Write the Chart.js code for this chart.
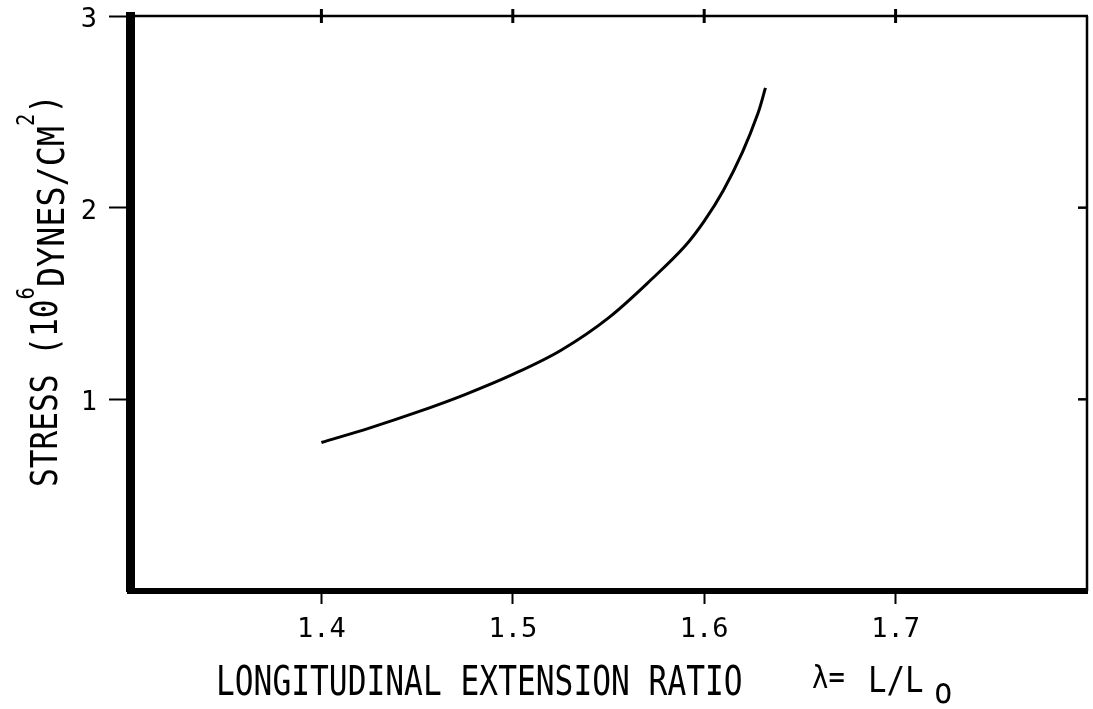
<!DOCTYPE html>
<html><head><meta charset="utf-8">
<script src="https://cdn.jsdelivr.net/npm/chart.js@4.4.1/dist/chart.umd.min.js"></script>
<style>html,body{margin:0;padding:0;background:#fff;}#wrap{width:1093px;height:709px;}</style>
</head><body><div id="wrap"><canvas id="c" width="1093" height="709"></canvas></div>
<script>
// ---- data ----
const extensionRatio = [1.400, 1.425, 1.450, 1.475, 1.500, 1.525, 1.550, 1.575, 1.590, 1.600, 1.610, 1.620, 1.628, 1.632];
const stressValues   = [0.775, 0.850, 0.933, 1.025, 1.130, 1.255, 1.425, 1.650, 1.800, 1.930, 2.090, 2.290, 2.490, 2.625];
const xTickValues = [1.4, 1.5, 1.6, 1.7];
const yTickValues = [1, 2, 3];
const xTitleMain = 'LONGITUDINAL EXTENSION RATIO';
const xTitleLambda = 'λ=';
const xTitleRatio = 'L/L';
const xTitleSub = 'o';
const yTitleParts = ['STRESS (10', '6', 'DYNES/CM', '2', ')'];

const FONT = '"DejaVu Sans Mono", "Liberation Mono", monospace';

function drawScaled(ctx, text, x, y, size, sx) {
  ctx.save();
  ctx.translate(x, y);
  ctx.scale(sx, 1);
  ctx.font = size + 'px ' + FONT;
  ctx.fillText(text, 0, 0);
  ctx.restore();
}
function drawRot(ctx, text, u, baseX, size, sx) {
  ctx.save();
  ctx.translate(baseX, u);
  ctx.rotate(-Math.PI / 2);
  ctx.scale(sx, 1);
  ctx.font = size + 'px ' + FONT;
  ctx.fillText(text, 0, 0);
  const w = ctx.measureText(text).width * sx;
  ctx.restore();
  return w;
}

const framePlugin = {
  id: 'frameAndTitles',
  afterDraw(chart) {
    const ctx = chart.ctx, a = chart.chartArea, xs = chart.scales.x, ys = chart.scales.y;
    ctx.save();
    ctx.strokeStyle = '#000';
    ctx.fillStyle = '#000';
    ctx.lineCap = 'butt';
    // top & right frame lines
    ctx.lineWidth = 2.5;
    ctx.beginPath();
    ctx.moveTo(a.left, a.top); ctx.lineTo(a.right + 1, a.top);
    ctx.moveTo(a.right, a.top); ctx.lineTo(a.right, a.bottom);
    ctx.stroke();
    // top tick marks (crossing the frame)
    ctx.lineWidth = 3;
    xTickValues.forEach(v => {
      const px = xs.getPixelForValue(v);
      ctx.beginPath(); ctx.moveTo(px, a.top - 7); ctx.lineTo(px, a.top + 7); ctx.stroke();
    });
    // right tick marks (inward)
    ctx.lineWidth = 2.5;
    yTickValues.filter(v => v < 3).forEach(v => {
      const py = ys.getPixelForValue(v);
      ctx.beginPath(); ctx.moveTo(a.right - 9, py); ctx.lineTo(a.right, py); ctx.stroke();
    });
    // x title
    ctx.textAlign = 'left';
    ctx.textBaseline = 'alphabetic';
    drawScaled(ctx, xTitleMain, 216, 695, 41, 0.762);
    drawScaled(ctx, xTitleLambda, 812, 688, 32, 0.85);
    drawScaled(ctx, xTitleRatio, 868, 692, 35, 0.88);
    drawScaled(ctx, xTitleSub, 934, 703, 35, 0.88);
    // y title (rotated, with superscripts / lowered part)
    let u = 487;
    u -= drawRot(ctx, yTitleParts[0], u, 57, 38, 0.82);
    u -= drawRot(ctx, yTitleParts[1], u, 34, 24, 0.85);
    u -= drawRot(ctx, yTitleParts[2], u, 64, 38, 0.88);
    u -= drawRot(ctx, yTitleParts[3], u, 34, 24, 0.85);
    drawRot(ctx, yTitleParts[4], u, 57, 38, 0.85);
    ctx.restore();
  }
};

new Chart(document.getElementById('c'), {
  type: 'line',
  data: {
    datasets: [{
      data: extensionRatio.map((v, i) => ({ x: v, y: stressValues[i] })),
      borderColor: '#000',
      borderWidth: 3,
      pointRadius: 0,
      fill: false,
      tension: 0.35
    }]
  },
  options: {
    responsive: false,
    animation: false,
    devicePixelRatio: 1,
    layout: { autoPadding: false, padding: { top: 16, right: 6, left: 0, bottom: 0 } },
    plugins: { legend: { display: false }, tooltip: { enabled: false } },
    scales: {
      x: {
        type: 'linear', min: 1.3, max: 1.8,
        afterBuildTicks: s => { s.ticks = xTickValues.map(v => ({ value: v })); },
        afterFit: s => { s.height = 118; s.paddingLeft = 0; s.paddingRight = 0; },
        ticks: { autoSkip: false, maxRotation: 0, padding: 10, color: '#000',
                 font: { family: FONT, size: 27 }, callback: v => Number(v).toFixed(1) },
        grid: { drawOnChartArea: false, drawTicks: true, tickLength: 13, tickWidth: 2, tickColor: '#000' },
        border: { display: true, color: '#000', width: 6 }
      },
      y: {
        type: 'linear', min: 0, max: 3,
        afterBuildTicks: s => { s.ticks = yTickValues.map(v => ({ value: v })); },
        afterFit: s => { s.width = 130; s.paddingTop = 0; s.paddingBottom = 0; },
        ticks: { padding: 12, labelOffset: 4, color: '#000', font: { family: FONT, size: 27 }, callback: v => String(v) },
        grid: { drawOnChartArea: false, drawTicks: true, tickLength: 21, tickWidth: 2, tickColor: '#000' },
        border: { display: true, color: '#000', width: 9 }
      }
    }
  },
  plugins: [framePlugin]
});
</script></body></html>
